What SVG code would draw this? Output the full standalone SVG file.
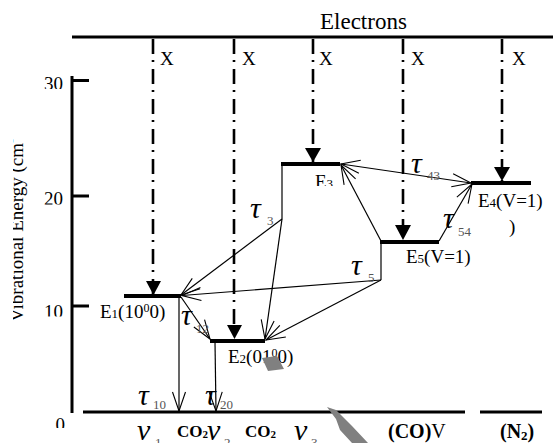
<svg xmlns="http://www.w3.org/2000/svg" width="553" height="443" viewBox="0 0 553 443" font-family="'Liberation Serif', 'DejaVu Serif', serif">
<style>
text{font-family:'Liberation Serif','DejaVu Serif',serif;fill:#000}
.lbl{font-size:19px}
.num{font-size:19px}
.tau{font-size:30px;font-style:italic}
.sub{font-size:13px;fill:#555}
.bar{stroke:#000;stroke-width:4;fill:none}
.axis{stroke:#000;stroke-width:3;fill:none}
.dd{stroke:#000;stroke-width:2.6;stroke-dasharray:15 6 2 7;fill:none}
.th{stroke:#000;stroke-width:1.2;fill:none}
.bold{font-weight:bold}
.grey{fill:#808080}
</style>
<defs>
<marker id="open" markerUnits="userSpaceOnUse" markerWidth="24" markerHeight="16" viewBox="-21 -8 24 16" refX="0" refY="0" orient="auto-start-reverse">
<path d="M-19,-6.5 L0,0 L-19,6.5" fill="none" stroke="#000" stroke-width="1.1"/>
</marker>
<clipPath id="c30"><rect x="30" y="60" width="40" height="29"/></clipPath>
<clipPath id="c20"><rect x="30" y="180" width="40" height="24.5"/></clipPath>
<clipPath id="c10"><rect x="30" y="295" width="40" height="21.5"/></clipPath>
<clipPath id="c0"><rect x="40" y="405" width="30" height="23"/></clipPath>
<clipPath id="cy"><rect x="13" y="100" width="20" height="240"/></clipPath>
<clipPath id="ce3"><rect x="300" y="168" width="50" height="18"/></clipPath>
</defs>

<g id="axis">
<line class="axis" x1="72" y1="76" x2="72" y2="413"/>
<line class="axis" x1="72" y1="80.5" x2="89" y2="80.5"/>
<line class="axis" x1="72" y1="196" x2="89" y2="196"/>
<line class="axis" x1="72" y1="306" x2="89" y2="306"/>
<text class="num" x="63" y="90" text-anchor="end" clip-path="url(#c30)">30</text>
<text class="num" x="63" y="205" text-anchor="end" clip-path="url(#c20)">20</text>
<text class="num" x="63" y="318" text-anchor="end" clip-path="url(#c10)">10</text>
<text class="num" x="65" y="431" text-anchor="end" clip-path="url(#c0)">0</text>
<g clip-path="url(#cy)"><text class="lbl" transform="translate(23,322) rotate(-90)">Vibrational Energy (cm<tspan style="font-size:12px" dy="-7">-</tspan></text></g>
</g>

<g id="electrons">
<line class="axis" x1="72" y1="37" x2="553" y2="37"/>
<text x="320" y="29" style="font-size:23px">Electrons</text>
</g>

<g id="ground">
<line class="axis" x1="83" y1="412" x2="465" y2="412"/>
<line class="axis" x1="480" y1="412" x2="542" y2="412"/>
<text class="tau" x="137" y="440">ν</text><text class="sub" x="155" y="447">1</text>
<text x="177" y="437" style="font-size:17px;font-weight:bold">CO<tspan style="font-size:11px" dy="1">2</tspan></text>
<text class="tau" x="207" y="440">ν</text><text class="sub" x="224" y="447">2</text>
<text x="245" y="437" style="font-size:17px;font-weight:bold">CO<tspan style="font-size:11px" dy="1">2</tspan></text>
<text class="tau" x="294" y="440">ν</text><text class="sub" x="311" y="447">3</text>
<text x="388" y="438" style="font-size:20px"><tspan style="font-weight:bold">(CO)</tspan>V</text>
<text x="500" y="438" style="font-size:20px;font-weight:bold">(N<tspan style="font-size:13px" dy="2">2</tspan><tspan dy="-2">)</tspan></text>
</g>

<g id="E1">
<line class="bar" x1="124" y1="296" x2="181" y2="296"/>
<text class="lbl" x="100" y="318">E<tspan style="font-size:13px">1</tspan>(10<tspan style="font-size:12px" dy="-6">0</tspan><tspan dy="6">0)</tspan></text>
</g>
<g id="E2">
<line class="bar" x1="210" y1="341" x2="265" y2="341"/>
<text class="lbl" x="228" y="363">E<tspan style="font-size:13px">2</tspan>(01<tspan style="font-size:12px" dy="-6">0</tspan><tspan dy="6">0)</tspan></text>
</g>
<g id="E3">
<line class="bar" x1="281" y1="164" x2="340" y2="164"/>
<text class="lbl" x="315" y="188" clip-path="url(#ce3)">E<tspan style="font-size:13px">3</tspan></text>
</g>
<g id="E5">
<line class="bar" x1="380" y1="242" x2="439" y2="242"/>
<text class="lbl" x="406" y="263">E<tspan style="font-size:13px">5</tspan>(V=1)</text>
</g>
<g id="E4">
<line class="bar" x1="471" y1="183" x2="531" y2="183"/>
<text class="lbl" x="478" y="207">E<tspan style="font-size:13px">4</tspan>(V=1)</text>
<text class="lbl" x="509" y="233">)</text>
</g>

<g id="excitation">
<line class="dd" x1="153" y1="39" x2="153" y2="294"/>
<line class="dd" x1="234" y1="39" x2="234" y2="339"/>
<line class="dd" x1="313" y1="39" x2="313" y2="162"/>
<line class="dd" x1="403" y1="39" x2="403" y2="240"/>
<line class="dd" x1="502" y1="39" x2="502" y2="181"/>
<path d="M146,281 L161,281 L153.5,295 Z" fill="#000"/>
<path d="M227,325 L242,325 L234.5,339 Z" fill="#000"/>
<path d="M305,148 L321,148 L313,162 Z" fill="#000"/>
<path d="M395,225 L411,225 L403,240 Z" fill="#000"/>
<path d="M494,167 L510,167 L502,181 Z" fill="#000"/>
<text class="lbl" x="160" y="65">X</text>
<text class="lbl" x="242" y="65">X</text>
<text class="lbl" x="319" y="65">X</text>
<text class="lbl" x="411" y="65">X</text>
<text class="lbl" x="512" y="65">X</text>
</g>

<g id="connectors">
<line class="th" x1="179" y1="297" x2="179" y2="411" marker-end="url(#open)"/>
<line class="th" x1="215" y1="342" x2="216" y2="411" marker-end="url(#open)"/>
<line class="th" x1="181" y1="297" x2="210" y2="339" marker-end="url(#open)"/>
<polyline class="th" points="282,165 282,219"/>
<line class="th" x1="282" y1="219" x2="181" y2="295" marker-end="url(#open)"/>
<line class="th" x1="282" y1="219" x2="265" y2="339" marker-end="url(#open)"/>
<polyline class="th" points="381,243 381,280"/>
<line class="th" x1="381" y1="280" x2="182" y2="295.5" marker-end="url(#open)"/>
<line class="th" x1="381" y1="280" x2="266" y2="340" marker-end="url(#open)"/>
<line class="th" x1="381" y1="241" x2="341" y2="165" marker-end="url(#open)"/>
<line class="th" x1="341" y1="164" x2="471" y2="183" marker-start="url(#open)" marker-end="url(#open)"/>
<line class="th" x1="439" y1="241" x2="472" y2="184" marker-end="url(#open)"/>
</g>

<g id="labels">
<text class="tau" x="250" y="218">τ</text><text class="sub" x="267" y="225">3</text>
<text class="tau" x="411" y="173">τ</text><text class="sub" x="427" y="180">43</text>
<text class="tau" x="443" y="228">τ</text><text class="sub" x="458" y="236">54</text>
<text class="tau" x="351" y="275">τ</text><text class="sub" x="368" y="282">5</text>
<text class="tau" x="181" y="325">τ</text><text class="sub" x="196" y="333">12</text>
<text class="tau" x="138" y="405">τ</text><text class="sub" x="153" y="409">10</text>
<text class="tau" x="205" y="405">τ</text><text class="sub" x="220" y="409">20</text>
</g>

<g id="artifacts">
<polygon class="grey" points="262,358 277,356 284,369 268,371"/>
<polygon class="grey" points="327,407 336,410 352,426 368,443 352,443 340,430 336,419"/>
</g>
</svg>
